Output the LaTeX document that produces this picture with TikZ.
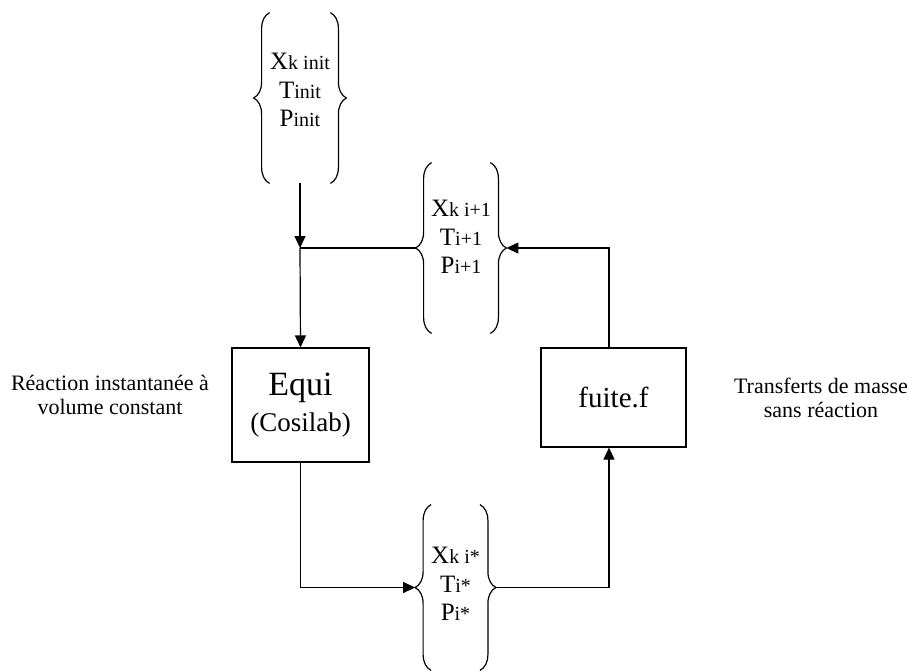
\documentclass[tikz,border=0pt]{standalone}
\usepackage{fontspec}
\setmainfont{Liberation Serif}
\usetikzlibrary{arrows.meta,decorations.pathreplacing}
\newcommand{\lowtxt}[1]{{\fontsize{10}{12}\selectfont #1}}

\begin{document}
\begin{tikzpicture}[x=0.5pt, y=-0.5pt, every node/.style={font=\fontsize{12.5}{14.25}\selectfont, align=center}, bracket/.style={inner sep=0pt, minimum height=85pt}, process/.style={draw, line width=0.6pt, inner sep=2pt}, note/.style={font=\fontsize{11}{12}\selectfont}, flow/.style={-{Triangle[length=6pt, width=5.5pt]}, line width=0.6pt}, curly/.style={decorate, decoration={brace, amplitude=8pt, raise=-8pt}, line width=0.6pt}]
        \useasboundingbox (0,0) rectangle (909,671);

        \node[bracket, minimum width=46pt] (init) at (300,98) {};
        \node (initval) at ([yshift=4pt]init.center) {X\lowtxt{k init}\\T\lowtxt{init}\\P\lowtxt{init}};
        \node[bracket, minimum width=45pt] (next) at (461,248) {};
        \node (nextval) at ([yshift=5.5pt]next.center) {X\lowtxt{k i+1}\\T\lowtxt{i+1}\\P\lowtxt{i+1}};
        \node[bracket, minimum width=40pt, minimum height=82.5pt] (star) at (455.5,587.5) {};
        \node (starval) at ([yshift=1.75pt]star.center) {X\lowtxt{k i*}\\T\lowtxt{i*}\\P\lowtxt{i*}};

        \node[process, minimum width=68.5pt, minimum height=57pt, font=\fontsize{17}{18}\selectfont] (equi) at (300.5,405) {Equi\\{\fontsize{13.5}{18}\selectfont (Cosilab)}};
        \node[process, minimum width=72.5pt, minimum height=49.5pt, font=\fontsize{14.5}{16}\selectfont] (fuite) at (613.5,397.5) {fuite.f};

        \node[note] (reac) at (110,395) {Réaction instantanée à\\volume constant};
        \node[note] (trans) at (821,398) {Transferts de masse\\sans réaction};

        \foreach \b in {init,next,star} {
            \draw[curly] (\b.south west) -- (\b.north west);
            \draw[curly] (\b.north east) -- (\b.south east);
        }

        \coordinate (join) at (init.south |- next.west);
        \draw[flow] (init.south) -- (join);
        \draw[line width=0.6pt] (join) -- (next.west);
        \draw[flow] (join) -- (equi.north);
        \draw[flow] (equi.south) |- (star.west);
        \draw[flow] (star.east) -| ([xshift=-2.25pt]fuite.south);
        \draw[flow] ([xshift=-2.25pt]fuite.north) |- (next.east);
    \end{tikzpicture}
\end{document}
